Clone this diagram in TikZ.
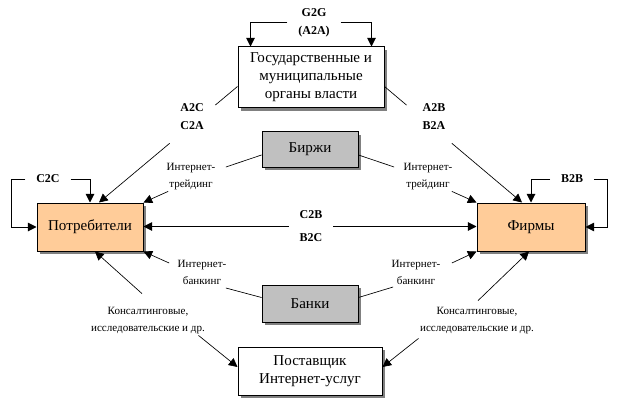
\documentclass[tikz,border=0pt]{standalone}
\usepackage{fontspec}
\setmainfont{Liberation Serif}
\usetikzlibrary{calc,positioning,shadows,arrows.meta}

\definecolor{peach}{HTML}{FFCC99}
\definecolor{stockgray}{HTML}{C0C0C0}
\definecolor{shadowgray}{HTML}{808080}

\begin{document}
\begin{tikzpicture}[x=0.75pt, y=-0.75pt,
    box/.style={draw, line width=0.75pt, align=center, inner sep=0pt,
        font=\fontsize{11.3}{13.5}\selectfont,
        drop shadow={shadow xshift=2.4pt, shadow yshift=-2.4pt, fill=shadowgray, opacity=1}},
    lbl/.style={align=center, inner sep=1pt, font=\fontsize{8.3}{12.75}\selectfont},
    tag/.style={align=center, inner xsep=8pt, inner ysep=1pt, font=\bfseries\fontsize{9}{13.5}\selectfont},
    tip/.style={-{Triangle[length=6.5pt, width=6.5pt]}},
    arr/.style={tip, line width=0.75pt},
    thinline/.style={line width=0.5pt},
    thinarr/.style={tip, line width=0.5pt}]

\useasboundingbox (0,0) rectangle (620,406);

%boxes
\node[box, fill=white, minimum width=109.5pt, minimum height=45.75pt] (gov) at (311,77.5)
    {Государственные и\\муниципальные\\органы власти};
\node[box, fill=stockgray, minimum width=72pt, minimum height=26.25pt] (birzhi) at (310,149.5) {Биржи};
\node[box, fill=peach, minimum width=79.5pt, minimum height=36pt] (potr) at (90,227) {Потребители};
\node[box, fill=peach, minimum width=81pt, minimum height=36pt] (firm) at (531,227) {Фирмы};
\node[box, fill=stockgray, minimum width=72pt, minimum height=27.75pt] (banki) at (310,303.5) {Банки};
\node[box, fill=white, minimum width=108pt, minimum height=36pt] (post) at (310,371)
    {Поставщик\\Интернет-услуг};

%labels
\node[tag] (g2g) at (314,23) {G2G\\(A2A)};
\node[tag] (a2c) at (192,117) {A2C\\C2A};
\node[tag] (a2b) at (434,117) {A2B\\B2A};
\node[tag] (c2c) at (48,179) {C2C};
\node[tag] (b2b) at (572,179) {B2B};
\node[tag, font=\bfseries\fontsize{9}{17.25}\selectfont] (cb) at (311,226.5) {C2B\\B2C};
\node[lbl] (tr1) at (191,176.5) {Интернет-\\трейдинг};
\node[lbl] (tr2) at (428,176.5) {Интернет-\\трейдинг};
\node[lbl] (bk1) at (202,272.5) {Интернет-\\банкинг};
\node[lbl] (bk2) at (416,272.5) {Интернет-\\банкинг};
\node[lbl] (kons1) at (148,320.5) {Консалтинговые,\\исследовательские и др.};
\node[lbl] (kons2) at (477,320.5) {Консалтинговые,\\исследовательские и др.};

%loops
\draw[arr] (g2g.west) -| ($(gov.north west)+(13,0)$);
\draw[arr] (g2g.east) -| ($(gov.north east)+(-13,0)$);
\draw[arr] (c2c.east) -| (potr.north);
\draw[arr] (c2c.west) -| ($(potr.west)+(-25,0)$) -- (potr.west);
\draw[arr] (b2b.west) -| (firm.north);
\draw[arr] (b2b.east) -| ($(firm.east)+(22,0)$) -- (firm.east);

%consumers and firms
\draw[arr] (cb.west) -- (cb.west -| potr.east);
\draw[arr] (cb.east) -- (cb.east -| firm.west);

%administration, split round the labels
\coordinate (govL) at ($(gov.west)+(0,9)$);
\coordinate (govR) at ($(gov.east)+(0,9)$);
\coordinate (potrT) at ($(potr.north)+(9,0)$);
\coordinate (firmT) at ($(firm.north)+(-9,0)$);
\draw[thinline] (govL) -- ($(govL)!0.16!(potrT)$);
\draw[thinarr] ($(govL)!0.49!(potrT)$) -- (potrT);
\draw[thinline] (govR) -- ($(govR)!0.16!(firmT)$);
\draw[thinarr] ($(govR)!0.49!(firmT)$) -- (firmT);

%exchanges
\draw[thinline] ($(birzhi.west)+(0,5.5)$) -- ($(tr1.east)+(9,-9.5)$);
\draw[thinarr] ($(tr1.south west)+(3,0)$) -- (potr.north east);
\draw[thinline] ($(birzhi.east)+(0,5.5)$) -- ($(tr2.west)+(-8,-9.5)$);
\draw[thinarr] ($(tr2.south east)+(-2,0)$) -- (firm.north west);

%banks
\draw[thinline] ($(banki.west)+(0,-6)$) -- ($(bk1.east)+(-2,15.5)$);
\draw[thinarr] ($(bk1.west)+(-7,-9.5)$) -- (potr.south east);
\draw[thinline] ($(banki.east)+(0,-6)$) -- ($(bk2.west)+(3,14.5)$);
\draw[thinarr] ($(bk2.east)+(10,-9.5)$) -- (firm.south west);

%service providers
\draw[thinarr] ($(kons1.north)+(-6,-12)$) -- ($(potr.south)+(5,0)$);
\draw[thinarr] ($(kons1.south east)+(-8,0)$) -- ($(post.west)+(0,-4)$);
\draw[thinarr] ($(kons2.north)+(1,-5)$) -- ($(firm.south)+(-2,0)$);
\draw[thinarr] ($(kons2.south west)+(0,3)$) -- ($(post.east)+(0,-4)$);

\end{tikzpicture}
\end{document}
